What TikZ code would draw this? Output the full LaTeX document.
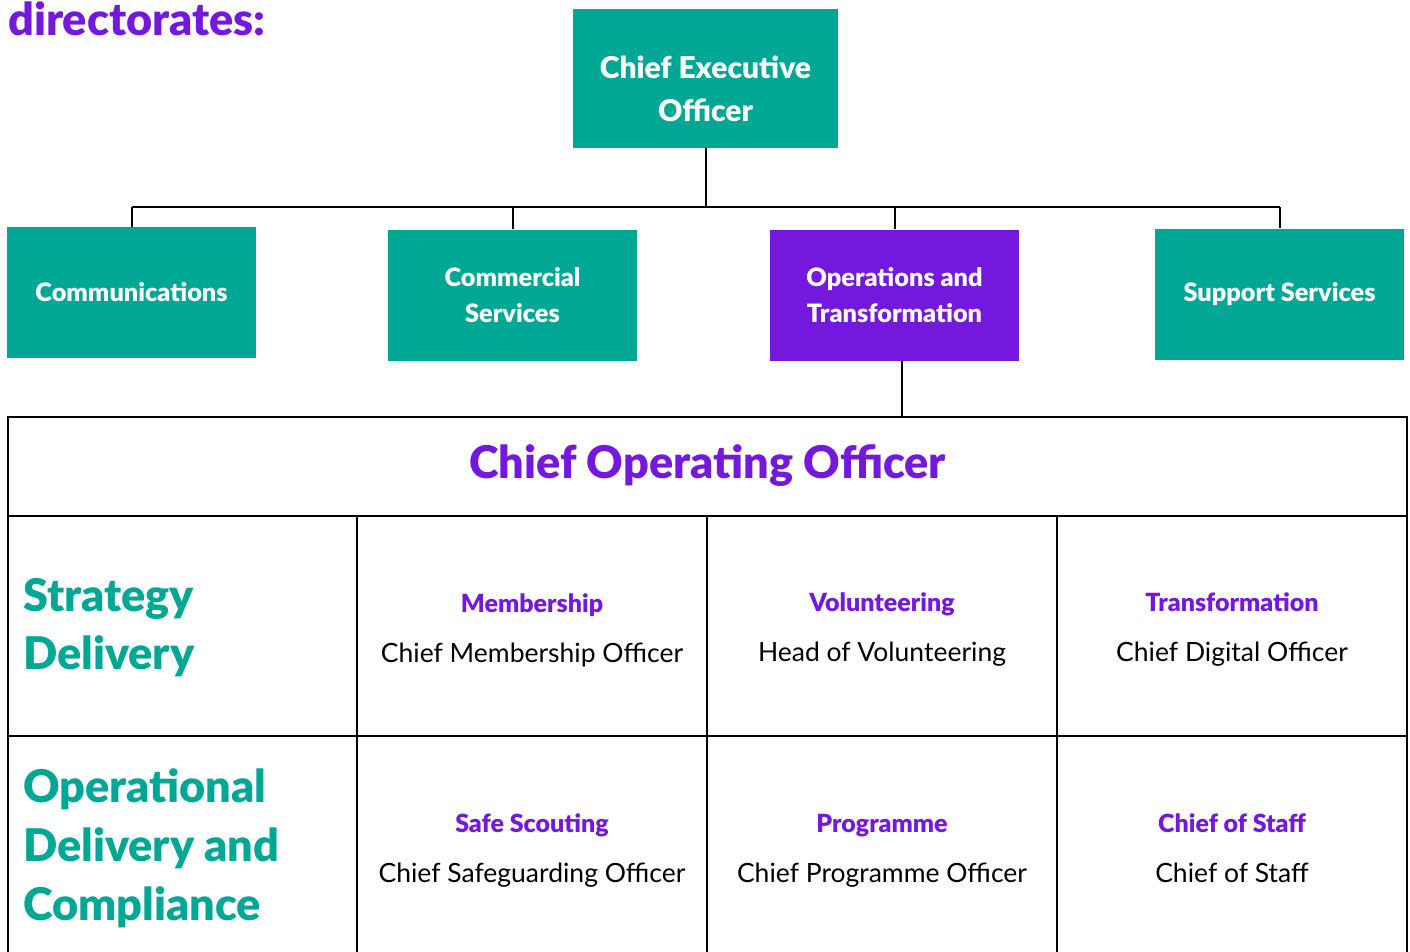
\documentclass[tikz,border=0pt]{standalone}
\usepackage{fontspec}
\setmainfont{Lato}[BoldFont={Lato Black}]
\usetikzlibrary{positioning}
\definecolor{scoutteal}{HTML}{00A794}
\definecolor{scoutpurple}{HTML}{7518DE}
\newcommand\celltitle[1]{{\bfseries\fontsize{25}{50}\selectfont\color{scoutpurple}#1}}

\begin{document}
\begin{tikzpicture}[x=1pt,y=-1pt,
    dirbox/.style={fill=scoutteal,text=white,align=center,inner sep=0pt,
      font=\bfseries\fontsize{25.3}{36}\selectfont,
      minimum width=249pt,minimum height=131pt},
    link/.style={draw=black,line width=2pt},
    grid/.style={draw=black,line width=2.5pt},
    rowlabel/.style={anchor=west,align=left,text=scoutteal,
      font=\bfseries\fontsize{45}{58}\selectfont,inner sep=0pt},
    cell/.style={align=center,font=\fontsize{26.5}{50}\selectfont,inner sep=0pt}]

  \useasboundingbox (0,0) rectangle (1410,952);

  \node[anchor=base west,inner sep=0pt,text=scoutpurple,
        font=\bfseries\fontsize{45}{45}\selectfont] (heading) at (8,36) {directorates:};

  % top level and directorates
  \node[dirbox,minimum width=265pt,minimum height=139pt,
        label={[align=center,text=white,yshift=-10pt,
                font=\bfseries\fontsize{30}{43}\selectfont]center:Chief Executive\\Officer}] (ceo) at (705.5,78.5) {};
  \node[dirbox] (comm) at (131.5,292.5) {Communications};
  \node[dirbox] (comms) at (512.5,295) {Commercial\\Services};
  \node[dirbox,fill=scoutpurple] (ops) at (894.5,295) {Operations and\\Transformation};
  \node[dirbox] (supp) at (1279.5,294) {Support Services};

  \coordinate (bus) at (704,207);
  \coordinate (tabtop) at (707,417);

  \path[link] (ceo.south) -- (ceo.south |- bus)
        (comm.north |- bus) -- (supp.north |- bus)
        (comm.north |- bus) -- (comm.north)
        (comms.north |- bus) -- (comms.north)
        (ops.north |- bus) -- (ops.north)
        (supp.north |- bus) -- (supp.north)
        ([xshift=7pt]ops.south) -- ([xshift=7pt]ops.south |- tabtop);

  % table of the chief operating officer
  \draw[grid] (8,952) -- (8,417) -- (1407,417) -- (1407,952);
  \draw[grid] (8,516) -- (1407,516) (8,736) -- (1407,736);
  \foreach \x in {357,707,1057}
    \draw[grid] (\x,516) -- (\x,952);

  \node[text=scoutpurple,font=\bfseries\fontsize{45}{45}\selectfont] (coo) at (707.5,466) {Chief Operating Officer};

  \node[rowlabel] (strat) at (23,628) {Strategy\\Delivery};
  \node[rowlabel,font=\bfseries\fontsize{45}{59}\selectfont] (opdel) at (23,848) {Operational\\Delivery and\\Compliance};

  \node[cell] (memb) at (532,630) {\celltitle{Membership}\\Chief Membership Officer};
  \node[cell] (vol) at (882,630) {\celltitle{Volunteering}\\Head of Volunteering};
  \node[cell] (trans) at (1232,630) {\celltitle{Transformation}\\Chief Digital Officer};
  \node[cell] (safe) at (532,851) {\celltitle{Safe Scouting}\\Chief Safeguarding Officer};
  \node[cell] (prog) at (882,851) {\celltitle{Programme}\\Chief Programme Officer};
  \node[cell] (staff) at (1232,848) {\celltitle{Chief of Staff}\\Chief of Staff};
\end{tikzpicture}
\end{document}
